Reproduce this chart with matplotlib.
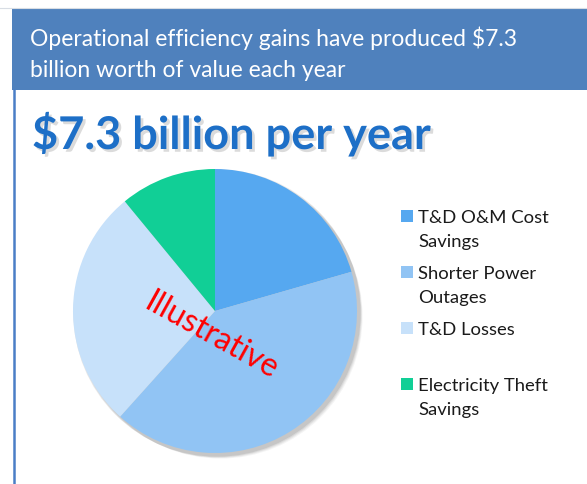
import matplotlib
matplotlib.use('Agg')
import matplotlib.pyplot as plt
from matplotlib.patches import Rectangle, Circle
from matplotlib.lines import Line2D
import matplotlib.patheffects as pe

plt.rcParams['font.family'] = ['Lato', 'DejaVu Sans']

W, H = 587, 485

header_lines = ['Operational efficiency gains have produced $7.3',
                'billion worth of value each year']
headline = '$7.3 billion per year'
labels = ['T&D O&M Cost\nSavings', 'Shorter Power\nOutages', 'T&D Losses', 'Electricity Theft\nSavings']
values = [1.5, 3.0, 2.0, 0.8]
colors = ['#56A8F0', '#91C4F4', '#C7E1FA', '#11CF96']

fig = plt.figure(figsize=(W / 100, H / 100), dpi=100)

def fx(px):
    return px / W

def fy(py):
    return 1 - py / H

# header band
fig.patches.append(Rectangle((fx(12), fy(91)), 1 - fx(12), fy(10) - fy(91),
                             transform=fig.transFigure, facecolor='#4F81BD', edgecolor='none'))
fig.lines.append(Line2D([fx(0), 1], [fy(9), fy(9)], transform=fig.transFigure,
                        color='#D8DDE4', lw=0.8))
fig.lines.append(Line2D([fx(13.5), fx(13.5)], [fy(91), 0], transform=fig.transFigure,
                        color='#4A7EC6', lw=1.8))

fig.text(fx(30), fy(46), header_lines[0], color='white', fontsize=16.5, va='baseline')
fig.text(fx(30), fy(77), header_lines[1], color='white', fontsize=16.5, va='baseline')

fig.text(fx(32), fy(150), headline, color='#1D6FC7', fontsize=32.5, fontweight='bold',
         va='baseline',
         path_effects=[pe.withSimplePatchShadow(offset=(2, -2), shadow_rgbFace='#9A9A9A', alpha=0.35)])

# pie
cx, cy, r = 215, 312, 142
ax = fig.add_axes([fx(cx - r), fy(cy + r), 2 * r / W, 2 * r / H])
for i, (d, a) in enumerate([(7, 0.06), (5.5, 0.08), (4, 0.10), (2.5, 0.14)]):
    ax.add_patch(Circle((d / r * 0.8, -d / r * 0.8), 1 + 0.004 * i, facecolor='#555555',
                        edgecolor='none', alpha=a, clip_on=False, zorder=0))
ax.pie(values, colors=colors, startangle=90, counterclock=False, radius=1,
       wedgeprops=dict(linewidth=0, zorder=2))
ax.set_xlim(-1, 1)
ax.set_ylim(-1, 1)
ax.set_aspect('equal')
ax.axis('off')

fig.text(fx(211), fy(336), 'Illustrative', color='#FF0000', fontsize=23, rotation=-29,
         ha='center', va='center', rotation_mode='anchor')

# legend
leg_y = [217, 273, 329, 385]
for lab, col, y in zip(labels, colors, leg_y):
    fig.patches.append(Rectangle((fx(401), fy(y + 6)), 12 / W, 12 / H,
                                 transform=fig.transFigure, facecolor=col, edgecolor='none'))
    fig.text(fx(418), fy(y - 7), lab, color='#1A1A1A', fontsize=13.3, va='top',
             linespacing=1.62)

fig.savefig('out.png', dpi=100)
